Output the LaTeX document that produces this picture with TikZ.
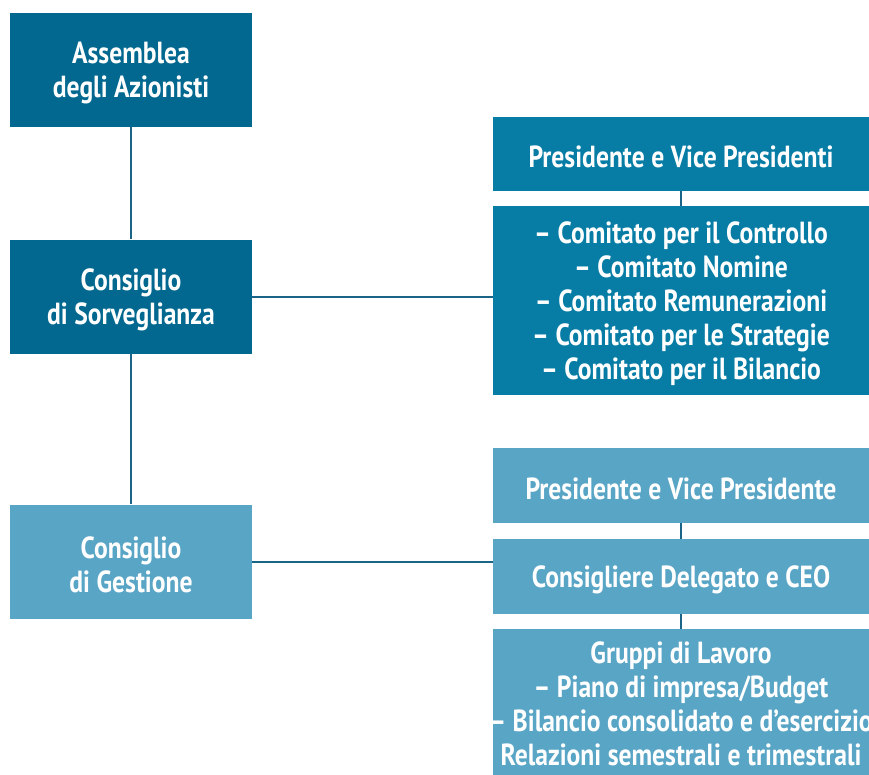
\documentclass[tikz,border=0pt]{standalone}
\usepackage{fontspec}
\setmainfont{PT Sans}[FakeStretch=0.84]
\definecolor{bluDark}{HTML}{03688F}
\definecolor{bluMid}{HTML}{077DA6}
\definecolor{bluLight}{HTML}{59A5C6}
\definecolor{lineBlu}{HTML}{1A6488}
\begin{document}
\begin{tikzpicture}[x=1pt,y=-1pt]
\tikzstyle {box}=[rectangle, inner sep=0pt, text=white, align=center, font=\bfseries\fontsize{30.5}{34}\selectfont]
\tikzstyle {leftbox}=[box, minimum width=242pt, minimum height=114pt]
\tikzstyle {rightbox}=[box, minimum width=376pt]
\tikzstyle {conn}=[draw=lineBlu, line width=2pt]
\useasboundingbox (0,0) rectangle (869,774);
% colonna di sinistra
\node (asm) [leftbox, fill=bluDark] at (131,70) {};
\node (asmtxt) [box] at (131,73) {Assemblea\\degli Azionisti};
\node (sorv) [leftbox, fill=bluDark] at (131,296.5) {};
\node (sorvtxt) [box] at (131,299.5) {Consiglio\\di Sorveglianza};
\node (gest) [leftbox, fill=bluLight] at (131,561.5) {};
\node (gesttxt) [box] at (131,564.5) {Consiglio\\di Gestione};
% colonna di destra
\node (pres1) [rightbox, fill=bluMid, minimum height=74pt] at (681,154) {};
\node (pres1txt) [box] at (681,157) {Presidente e Vice Presidenti};
\node (comit) [rightbox, fill=bluMid, minimum height=189pt] at (681,300.5) {};
\node (comittxt) [box] at (681,303.5) {-- Comitato per il Controllo\\-- Comitato Nomine\\-- Comitato Remunerazioni\\-- Comitato per le Strategie\\-- Comitato per il Bilancio};
\node (pres2) [rightbox, fill=bluLight, minimum height=75pt] at (681,485.5) {};
\node (pres2txt) [box] at (681,488.5) {Presidente e Vice Presidente};
\node (ceo) [rightbox, fill=bluLight, minimum height=75pt] at (681,576.5) {};
\node (ceotxt) [box] at (681,579.5) {Consigliere Delegato e CEO};
\node (gruppi) [rightbox, fill=bluLight, minimum height=150pt] at (681,704) {};
\node (gtxt) [box, anchor=north] at (681,642) {Gruppi di Lavoro\\-- Piano di impresa/Budget\\-- Bilancio consolidato e d’esercizio\\Relazioni semestrali e trimestrali};
% collegamenti
\draw [conn] (asm) -- (sorv);
\draw [conn] (sorv) -- (gest);
\draw [conn] (sorv) -- (sorv -| comit.west);
\draw [conn] (gest) -- (gest -| ceo.west);
\draw [conn] (pres1) -- (comit);
\draw [conn] (pres2) -- (ceo);
\draw [conn] (ceo) -- (gruppi);
\end{tikzpicture}
\end{document}
